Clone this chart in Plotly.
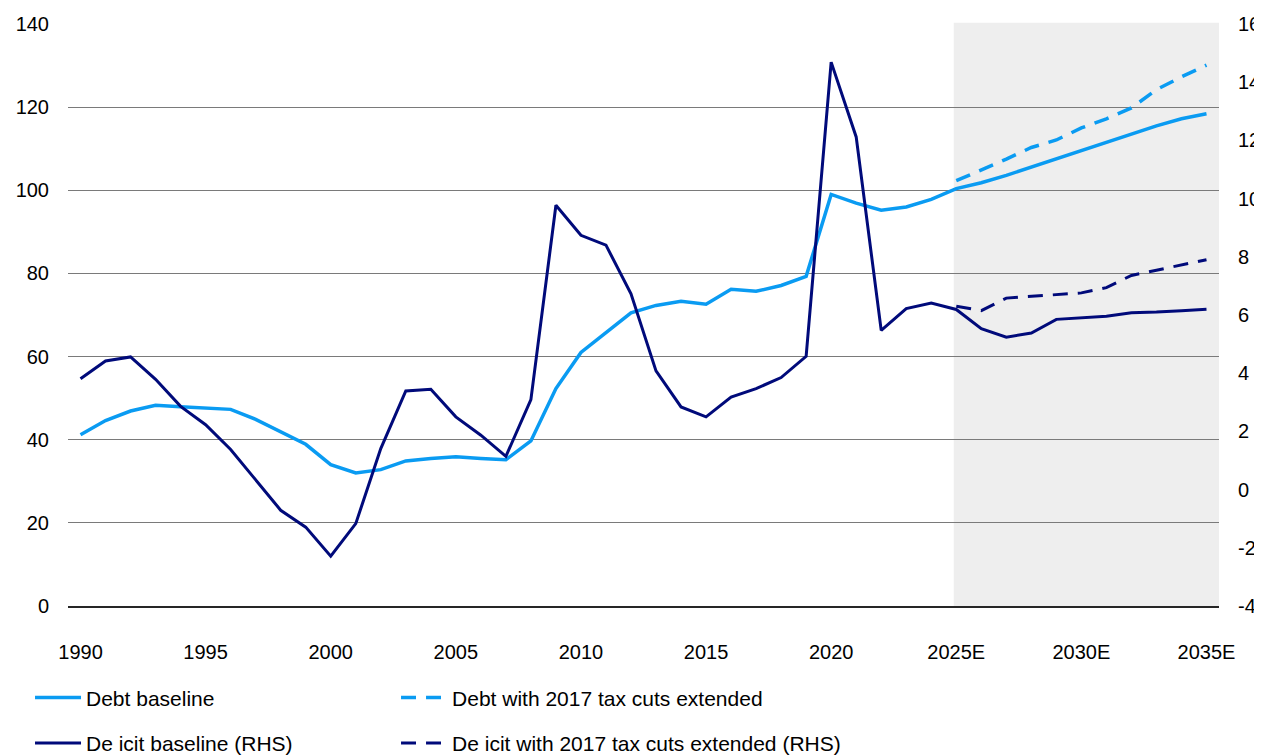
"""US federal debt and deficit, baseline vs. 2017 tax cuts extended."""

import plotly.graph_objects as go

years = list(range(1990, 2036))
proj_years = list(range(2025, 2036))

# % of GDP, left axis
debt_baseline = [
    41.2, 44.6, 46.9, 48.3, 47.9, 47.6, 47.3, 44.9, 41.9, 38.9,
    34.0, 32.0, 32.8, 34.9, 35.5, 35.9, 35.5, 35.2, 39.7, 52.3,
    61.0, 65.8, 70.5, 72.3, 73.3, 72.6, 76.2, 75.7, 77.1, 79.3,
    99.0, 96.9, 95.2, 96.0, 97.8, 100.4, 101.8, 103.6, 105.6, 107.5,
    109.5, 111.4, 113.4, 115.5, 117.2, 118.4,
]
debt_extended = [102.3, 104.8, 107.5, 110.3, 112.1, 115.0, 117.2, 119.8, 124.2, 127.3, 130.1]

# % of GDP, right axis
deficit_baseline = [
    3.81, 4.42, 4.56, 3.79, 2.86, 2.23, 1.38, 0.32, -0.71, -1.29,
    -2.29, -1.17, 1.41, 3.39, 3.45, 2.50, 1.87, 1.14, 3.09, 9.77,
    8.74, 8.40, 6.73, 4.08, 2.84, 2.50, 3.18, 3.47, 3.85, 4.58,
    14.69, 12.12, 5.47, 6.22, 6.41, 6.19, 5.53, 5.24, 5.38, 5.85,
    5.91, 5.96, 6.08, 6.10, 6.15, 6.20,
]
deficit_extended = [6.30, 6.15, 6.58, 6.64, 6.71, 6.76, 6.94, 7.36, 7.54, 7.71, 7.90]

tick_vals = [1990, 1995, 2000, 2005, 2010, 2015, 2020, 2025, 2030, 2035]
tick_text = ["1990", "1995", "2000", "2005", "2010", "2015", "2020", "2025E", "2030E", "2035E"]
rhs_vals = [-4, -2, 0, 2, 4, 6, 8, 10, 12, 14, 16]
rhs_text = ["-4", "-2", "0", "2", "4", "6", "8", "10", "12", "14", "16"]

LIGHT = "#0A9BF2"
NAVY = "#000A7A"
FONT = "Arial, Liberation Sans, sans-serif"

fig = go.Figure()

fig.add_trace(go.Scatter(x=years, y=debt_baseline, name="Debt baseline",
                         mode="lines", line=dict(color=LIGHT, width=3.5),
                         legend="legend"))
fig.add_trace(go.Scatter(x=proj_years, y=debt_extended,
                         name="Debt with 2017 tax cuts extended", mode="lines",
                         line=dict(color=LIGHT, width=3.5, dash="15px,10px"),
                         legend="legend2"))
fig.add_trace(go.Scatter(x=years, y=deficit_baseline, name="De icit baseline (RHS)",
                         mode="lines", line=dict(color=NAVY, width=3),
                         yaxis="y2", legend="legend3"))
fig.add_trace(go.Scatter(x=proj_years, y=deficit_extended,
                         name="De icit with 2017 tax cuts extended (RHS)", mode="lines",
                         line=dict(color=NAVY, width=3, dash="15px,10px"),
                         yaxis="y2", legend="legend4"))

# projection period shading
fig.add_shape(type="rect", xref="x", yref="paper", x0=2024.9, x1=2035.5, y0=0, y1=1.002,
              fillcolor="#EEEEEE", line_width=0, layer="between")

legend_style = dict(orientation="h", xanchor="left", yanchor="middle",
                    font=dict(family=FONT, size=21, color="#000000"),
                    bgcolor="rgba(0,0,0,0)", itemwidth=46)
col1, col2 = -0.033, 0.285
row1, row2 = -0.158, -0.236

# page body adds an 8px offset; figure is shrunk so the page needs no scrollbars
fig.update_layout(
    width=1254, height=747,
    margin=dict(l=60, r=43, t=16, b=149, autoexpand=False),
    plot_bgcolor="white", paper_bgcolor="white",
    font=dict(family=FONT, size=20, color="#000000"),
    showlegend=True,
    legend=dict(x=col1, y=row1, **legend_style),
    legend2=dict(x=col2, y=row1, **legend_style),
    legend3=dict(x=col1, y=row2, **legend_style),
    legend4=dict(x=col2, y=row2, **legend_style),
    xaxis=dict(range=[1989.5, 2035.5], tickvals=tick_vals, ticktext=tick_text,
               showgrid=False, zeroline=False, showline=True,
               linecolor="#262626", linewidth=2, ticks="", automargin=False,
               ticklabelstandoff=27, tickfont=dict(size=20)),
    yaxis=dict(range=[0, 140], dtick=20, showgrid=True, gridcolor="#7A7A7A",
               gridwidth=1, zeroline=False, showline=False, ticks="",
               automargin=False, ticklabelstandoff=18, tickfont=dict(size=20)),
    yaxis2=dict(range=[-4, 16], tickvals=rhs_vals, ticktext=rhs_text,
                overlaying="y", side="right", showgrid=False, zeroline=False,
                showline=False, ticks="", automargin=False,
                ticklabelstandoff=18, tickfont=dict(size=20)),
)

fig.write_html("out.html")
